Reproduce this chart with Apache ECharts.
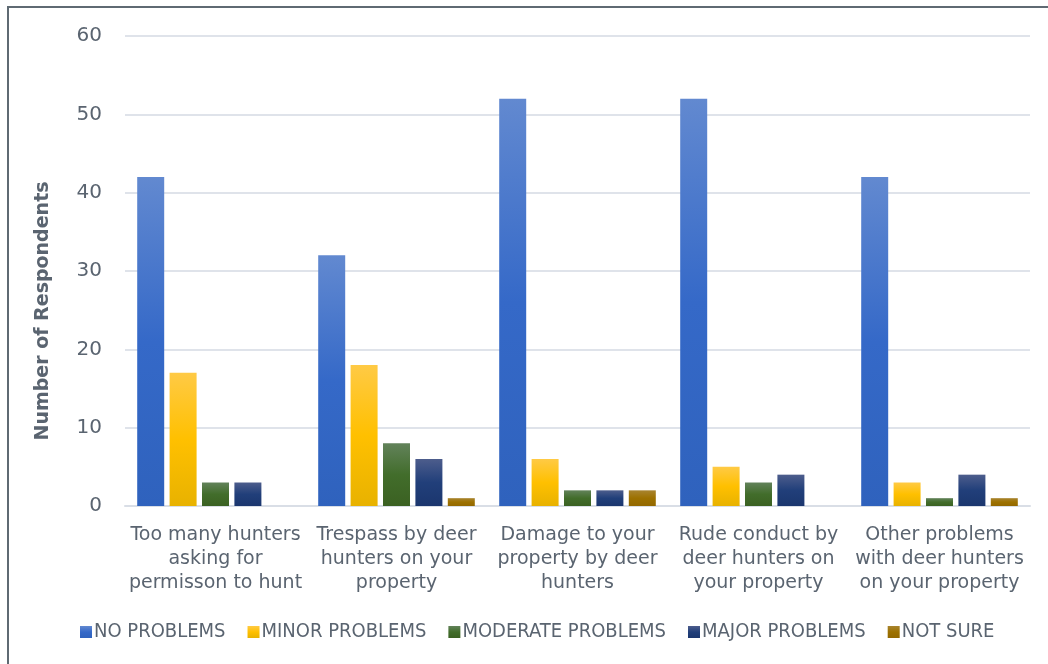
<!DOCTYPE html>
<html>
<head>
<meta charset="utf-8">
<script src="https://cdn.jsdelivr.net/npm/echarts@6/dist/echarts.min.js"></script>
<style>
  html, body { margin: 0; padding: 0; background: #fff; }
  #chart { width: 1048px; height: 664px; }
</style>
</head>
<body>
<div id="chart"></div>
<script>
const categories = [
  'Too many hunters\nasking for\npermisson to hunt',
  'Trespass by deer\nhunters on your\nproperty',
  'Damage to your\nproperty by deer\nhunters',
  'Rude conduct by\ndeer hunters on\nyour property',
  'Other problems\nwith deer hunters\non your property'
];
const seriesNames = ['NO PROBLEMS', 'MINOR PROBLEMS', 'MODERATE PROBLEMS', 'MAJOR PROBLEMS', 'NOT SURE'];
const noProblems = [42, 32, 52, 52, 42];
const minorProblems = [17, 18, 6, 5, 3];
const moderateProblems = [3, 8, 2, 3, 1];
const majorProblems = [3, 6, 2, 4, 4];
const notSure = [0, 1, 2, 0, 1];
const yTicks = [0, 10, 20, 30, 40, 50, 60];

const allValues = [noProblems, minorProblems, moderateProblems, majorProblems, notSure];
// top / middle / bottom shades of the office style gradient
const shades = [
  ['#6289d0', '#3569c8', '#2f62bd'],
  ['#ffca45', '#ffc000', '#e8b200'],
  ['#62825a', '#426d2b', '#3b6122'],
  ['#4d5d8c', '#213f7a', '#1b366e'],
  ['#a8842f', '#9d7100', '#936800']
];
const textColor = '#5a6470';
const font = '"DejaVu Sans", Verdana, sans-serif';

const grad = (c) => new echarts.graphic.LinearGradient(0, 0, 0, 1, [
  { offset: 0, color: c[0] },
  { offset: 0.5, color: c[1] },
  { offset: 1, color: c[2] }
]);

const chart = echarts.init(document.getElementById('chart'));
chart.setOption({
  animation: false,
  textStyle: { fontFamily: font },
  graphic: [{
    type: 'rect',
    shape: { x: 8, y: 7, width: 1100, height: 700 },
    style: { fill: 'none', stroke: '#5f6a73', lineWidth: 2 },
    silent: true
  }],
  grid: { left: 125, right: 18, top: 36, bottom: 158 },
  legend: {
    bottom: 17,
    left: 75,
    itemWidth: 12,
    itemHeight: 12,
    itemGap: 22,
    icon: 'rect',
    textStyle: { color: textColor, fontSize: 20, fontFamily: '"DejaVu Sans Condensed", "DejaVu Sans", sans-serif', padding: [0, 0, 0, -3] },
    data: seriesNames.map((n, i) => ({ name: n, itemStyle: { color: grad(shades[i]) } }))
  },
  xAxis: {
    type: 'category',
    data: categories,
    axisLine: { lineStyle: { color: '#d9dee6', width: 2 } },
    axisTick: { show: false },
    axisLabel: { color: textColor, fontSize: 19, lineHeight: 24, margin: 17, interval: 0 }
  },
  yAxis: {
    type: 'value',
    min: yTicks[0],
    max: yTicks[yTicks.length - 1],
    interval: 10,
    name: 'Number of Respondents',
    nameLocation: 'middle',
    nameGap: 72,
    nameTextStyle: { color: textColor, fontSize: 19, fontWeight: 'bold', padding: [0, 80, 0, 0] },
    axisLine: { show: false },
    axisTick: { show: false },
    axisLabel: { color: textColor, fontSize: 20, margin: 23 },
    splitLine: { lineStyle: { color: '#dfe3ea', width: 2 } }
  },
  series: seriesNames.map((n, i) => ({
    name: n,
    type: 'bar',
    barWidth: 27,
    barGap: '20%',
    data: allValues[i],
    itemStyle: { color: grad(shades[i]) }
  }))
});
</script>
</body>
</html>
